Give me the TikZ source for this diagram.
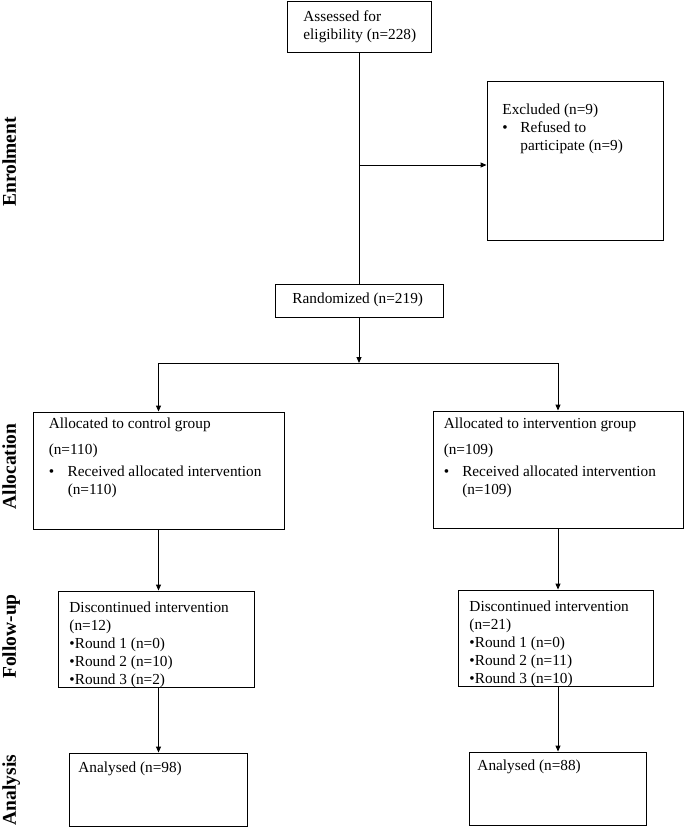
\documentclass[tikz,border=0pt]{standalone}
\usepackage{fontspec}
\setmainfont{Liberation Serif}
\usetikzlibrary{arrows.meta}
\tikzset{
  box/.style={draw, line width=0.9pt, inner sep=0pt},
  boxtext/.style={anchor=north west, inner sep=0pt, align=left, font=\fontsize{15.3}{18}\selectfont},
  stage/.style={rotate=90, anchor=base, inner sep=0pt, font=\fontsize{19.5}{22}\selectfont\bfseries}
}
\newcommand{\itembullet}[1]{\makebox[#1][l]{\textbullet}}
\begin{document}
\begin{tikzpicture}[x=1pt, y=-1pt, line width=0.9pt, >={Triangle[length=6pt,width=5pt]}]
\useasboundingbox (0,0) rectangle (685,828);
\clip (0,0) rectangle (685,828);
% stages
\node [stage] (enrol) at (16,162) {Enrolment};
\node [stage] (alloc) at (16,466.5) {Allocation};
\node [stage] (follow) at (16,636.5) {Follow-up};
\node [stage] (analysis) at (16,790) {Analysis};
% enrolment
\node [box, minimum width=144pt, minimum height=51pt] (assess) at (359,26.5) {};
\node [boxtext] (assesstext) at (303,10.5) {Assessed for\\eligibility (n=228)};
\node [box, minimum width=176pt, minimum height=159pt] (excl) at (575,160.5) {};
\node [boxtext] (excltext) at (502,103.5) {Excluded (n=9)\\\itembullet{18pt}Refused to\\\hspace*{18pt}participate (n=9)};
\node [box, minimum width=168pt, minimum height=33pt] (rand) at (359,300.5) {};
\node [boxtext] (randtext) at (292,292.5) {Randomized (n=219)};
\coordinate (excljoin) at (359,165);
\coordinate (split) at (359,363);
\draw (assess) -- (rand);
\draw [->] (excljoin) -- (excljoin -| excl.west);
% allocation
\node [box, minimum width=251pt, minimum height=117pt] (ctrl) at (158.5,470.5) {};
\node [boxtext] (ctrltext) at (48.3,417.5) {Allocated to control group\\[7.5pt](n=110)\\[4.5pt]\itembullet{19pt}Received allocated intervention\\\hspace*{19pt}(n=110)};
\node [box, minimum width=250pt, minimum height=117pt] (intv) at (558,469.5) {};
\node [boxtext] (intvtext) at (443.3,417.5) {Allocated to intervention group\\[7.5pt](n=109)\\[4.5pt]\itembullet{18.5pt}Received allocated intervention\\\hspace*{18.5pt}(n=109)};
\draw [->] (rand) -- (split);
\draw [->] (split) -| (ctrl);
\draw [->] (split) -| (intv);
% follow-up
\node [box, minimum width=196pt, minimum height=96pt] (ctrlfu) at (156,639) {};
\node [boxtext] (ctrlfutext) at (69,601) {Discontinued intervention\\(n=12)\\\textbullet Round 1 (n=0)\\\textbullet Round 2 (n=10)\\\textbullet Round 3 (n=2)};
\node [box, minimum width=195pt, minimum height=96pt] (intvfu) at (555.5,638) {};
\node [boxtext] (intvfutext) at (469,600) {Discontinued intervention\\(n=21)\\\textbullet Round 1 (n=0)\\\textbullet Round 2 (n=11)\\\textbullet Round 3 (n=10)};
\draw [->] (ctrl.south) -- (ctrl.south |- ctrlfu.north);
\draw [->] (intv.south) -- (intv.south |- intvfu.north);
% analysis
\node [box, minimum width=178pt, minimum height=73pt] (ctrlan) at (158,789.5) {};
\node [boxtext] (ctrlantext) at (78,761) {Analysed (n=98)};
\node [box, minimum width=177pt, minimum height=73pt] (intvan) at (557.5,788.5) {};
\node [boxtext] (intvantext) at (477,759.5) {Analysed (n=88)};
\draw [->] (ctrl.south |- ctrlfu.south) -- (ctrl.south |- ctrlan.north);
\draw [->] (intv.south |- intvfu.south) -- (intv.south |- intvan.north);
\end{tikzpicture}
\end{document}
